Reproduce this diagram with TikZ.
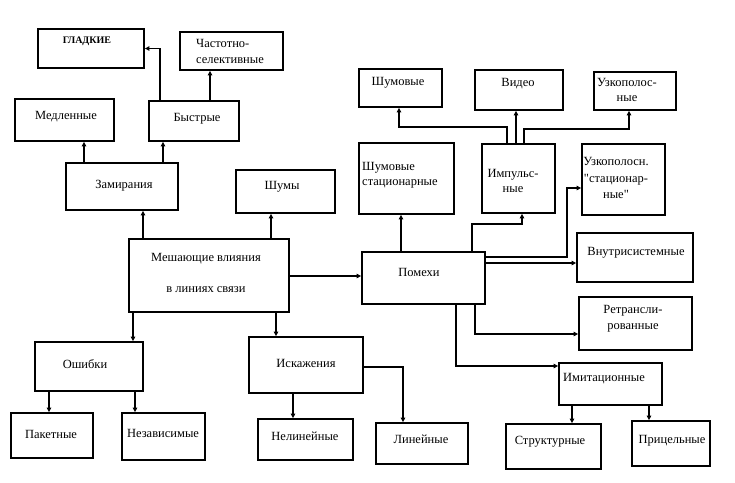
\documentclass[tikz,border=0pt]{standalone}
\usepackage{fontspec}
\setmainfont{Liberation Serif}[Ligatures=TeXOff]
\usetikzlibrary{arrows.meta,fit}

\tikzset{
  box/.style={draw, line width=1.8pt, inner sep=0pt},
  lbl/.style={inner sep=0pt, font=\fontsize{12.5}{15}\selectfont},
  arr/.style={line width=1.7pt, -{Triangle[length=4.5pt,width=4.5pt]}},
  line/.style={line width=1.7pt}
}

\begin{document}
\begin{tikzpicture}[x=1pt, y=-1pt]
  \useasboundingbox (0,0) rectangle (735,482);

  % boxes
  \node[box, fit={(38,29) (144,68)}] (gladk) {};
  \node[box, fit={(180,32) (283,70)}] (chast) {};
  \node[box, fit={(15,99) (114,141)}] (medl) {};
  \node[box, fit={(149,101) (239,141)}] (bystr) {};
  \node[box, fit={(66,163) (178,210)}] (zamir) {};
  \node[box, fit={(236,170) (335,213)}] (shumy) {};
  \node[box, fit={(129,239) (289,312)}] (mesh) {};
  \node[box, fit={(362,252) (485,304)}] (pomehi) {};
  \node[box, fit={(359,69) (442,107)}] (shumov) {};
  \node[box, fit={(475,70) (563,110)}] (video) {};
  \node[box, fit={(594,72) (676,110)}] (uzkop) {};
  \node[box, fit={(359,143) (454,214)}] (shstac) {};
  \node[box, fit={(482,144) (555,213)}] (impuls) {};
  \node[box, fit={(582,144) (665,215)}] (uzstac) {};
  \node[box, fit={(577,233) (693,282)}] (vnutr) {};
  \node[box, fit={(579,297) (692,350)}] (retr) {};
  \node[box, fit={(559,363) (662,405)}] (imit) {};
  \node[box, fit={(506,424) (601,469)}] (strukt) {};
  \node[box, fit={(632,421) (710,466)}] (pric) {};
  \node[box, fit={(35,342) (143,391)}] (oshib) {};
  \node[box, fit={(11,413) (93,458)}] (paket) {};
  \node[box, fit={(122,413) (205,460)}] (nezav) {};
  \node[box, fit={(249,337) (363,393)}] (iskaz) {};
  \node[box, fit={(258,419) (353,460)}] (nelin) {};
  \node[box, fit={(376,423) (468,464)}] (linei) {};

  % texts
  \node[lbl, font=\fontsize{10}{12}\selectfont\bfseries] (gladk-t) at (87,41) {ГЛАДКИЕ};
  \node[lbl, anchor=west, align=left, font=\fontsize{12.5}{16}\selectfont] (chast-t) at (196,51) {Частотно-\\селективные};
  \node[lbl] (medl-t) at (66,117) {Медленные};
  \node[lbl] (bystr-t) at (197,119) {Быстрые};
  \node[lbl] (zamir-t) at (124,186) {Замирания};
  \node[lbl] (shumy-t) at (282,187) {Шумы};
  \node[lbl, align=center] (mesh-t) at (206,273) {Мешающие влияния\\[16pt]в линиях связи};
  \node[lbl] (pomehi-t) at (419,272) {Помехи};
  \node[lbl] (shumov-t) at (398,83) {Шумовые};
  \node[lbl] (video-t) at (518,84) {Видео};
  \node[lbl, align=center] (uzkop-t) at (627,90) {Узкополос-\\ные};
  \node[lbl, anchor=west, align=left] (shstac-t) at (362,175) {Шумовые\\стационарные};
  \node[lbl, align=center] (impuls-t) at (513,181) {Импульс-\\ные};
  \node[lbl, align=center, font=\fontsize{12.5}{16.5}\selectfont] (uzstac-t) at (616,178) {Узкополосн.\\"стационар-\\ные"};
  \node[lbl] (vnutr-t) at (636,253) {Внутрисистемные};
  \node[lbl, align=center, font=\fontsize{12.5}{16}\selectfont] (retr-t) at (633,319) {Ретрансли-\\рованные};
  \node[lbl] (imit-t) at (604,379) {Имитационные};
  \node[lbl] (strukt-t) at (550,442) {Структурные};
  \node[lbl] (pric-t) at (672,441) {Прицельные};
  \node[lbl] (oshib-t) at (85,364) {Ошибки};
  \node[lbl] (paket-t) at (51,434) {Пакетные};
  \node[lbl] (nezav-t) at (163,433) {Независимые};
  \node[lbl] (iskaz-t) at (306,363) {Искажения};
  \node[lbl] (nelin-t) at (305,436) {Нелинейные};
  \node[lbl] (linei-t) at (421,439) {Линейные};

  % left part
  \draw[arr] (zamir.north -| 84,0) -- (medl.south -| 84,0);
  \draw[arr] (zamir.north -| 163,0) -- (bystr.south -| 163,0);
  \draw[arr] (bystr.north -| 160,0) |- (gladk.east);
  \draw[arr] (bystr.north -| 210,0) -- (chast.south -| 210,0);
  \draw[arr] (mesh.north -| 143,0) -- (zamir.south -| 143,0);
  \draw[arr] (mesh.north -| 271,0) -- (shumy.south -| 271,0);
  \draw[arr] (mesh.east |- 0,276) -- (pomehi.west |- 0,276);
  \draw[arr] (mesh.south -| 133,0) -- (oshib.north -| 133,0);
  \draw[arr] (mesh.south -| 276,0) -- (iskaz.north -| 276,0);
  \draw[arr] (oshib.south -| 49,0) -- (paket.north -| 49,0);
  \draw[arr] (oshib.south -| 135,0) -- (nezav.north -| 135,0);
  \draw[arr] (iskaz.south -| 293,0) -- (nelin.north -| 293,0);
  \draw[arr] (iskaz.east |- 0,367) -| (linei.north -| 403,0);

  % right part
  \draw[arr] (pomehi.north -| 401,0) -- (shstac.south -| 401,0);
  \draw[arr] (pomehi.north -| 472,0) -- (472,224) -| (impuls.south -| 522,0);
  \draw[arr] (pomehi.east |- 0,257) -| (567,188) -- (uzstac.west |- 0,188);
  \draw[arr] (pomehi.east |- 0,263) -- (vnutr.west |- 0,263);
  \draw[arr] (pomehi.south -| 475,0) |- (retr.west |- 0,334);
  \draw[arr] (pomehi.south -| 456,0) |- (imit.west |- 0,366);
  \draw[arr] (imit.south -| 572,0) -- (strukt.north -| 572,0);
  \draw[arr] (imit.south -| 649,0) -- (pric.north -| 649,0);
  \draw[arr] (impuls.north -| 507,0) -- (507,127) -| (shumov.south -| 399,0);
  \draw[arr] (impuls.north -| 516,0) -- (video.south -| 516,0);
  \draw[arr] (impuls.north -| 524,0) -- (524,129) -| (uzkop.south -| 629,0);
\end{tikzpicture}
\end{document}
